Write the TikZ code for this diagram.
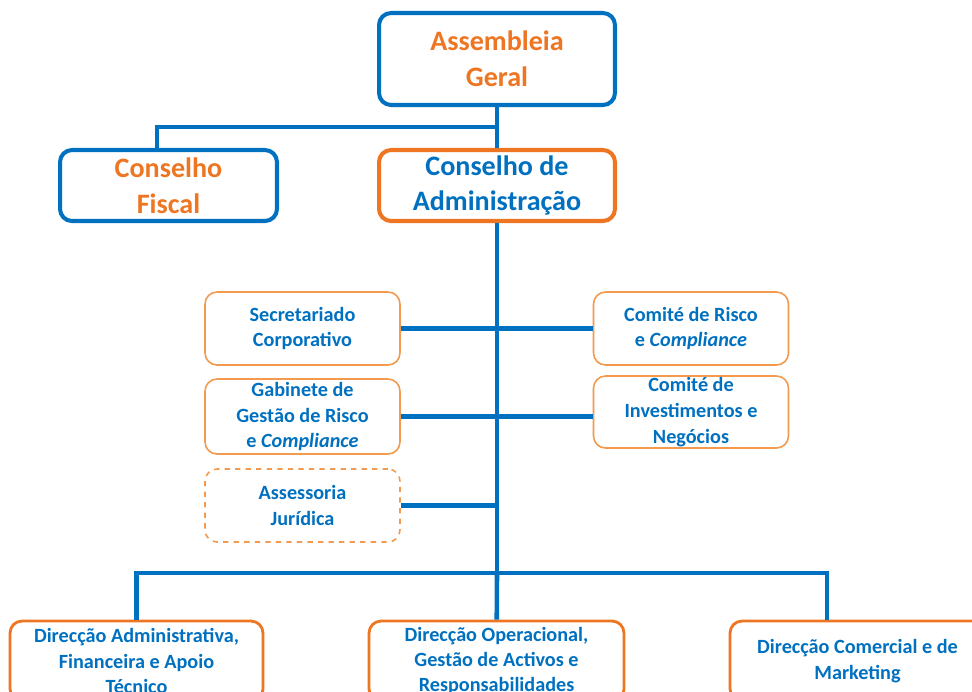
\documentclass[tikz,border=0pt]{standalone}
\usepackage{fontspec}
\setmainfont{Carlito}
\usepackage{tikz}

\definecolor{orgblue}{HTML}{0070C0}
\definecolor{orgorange}{HTML}{EE7623}
\definecolor{orglight}{HTML}{F39A4E}

\begin{document}
\begin{tikzpicture}[x=0.02cm, y=-0.02cm,
		top_style/.style={rectangle,rounded corners=0.24cm,line width=2.3pt,fill=white,align=center,
			font=\fontsize{16}{20.3}\selectfont\bfseries,inner sep=0pt},
		sub_style/.style={rectangle,rounded corners=0.24cm,draw=orglight,line width=0.9pt,fill=white,
			minimum width=3.9cm,minimum height=1.46cm,align=center,text=orgblue,
			font=\fontsize{11.5}{14.7}\selectfont\bfseries,inner sep=0pt},
		dir_style/.style={rectangle,rounded corners=0.24cm,draw=orgorange,line width=1.6pt,fill=white,
			minimum height=1.6cm,align=center,text=orgblue,
			font=\fontsize{11.5}{14.4}\selectfont\bfseries,inner sep=0pt},
		edge_style/.style={draw=orgblue,line width=2.6pt}]

		\clip (0,0) rectangle (972,691);
		\fill[white] (0,0) rectangle (972,691);

		% governing bodies
		\node[top_style,draw=orgblue,text=orgorange,minimum width=4.72cm,minimum height=1.84cm] (ag) at (497,59) {Assembleia\\Geral};
		\node[top_style,draw=orgblue,text=orgorange,minimum width=4.34cm,minimum height=1.42cm] (cf) at (168.5,185.5) {Conselho\\Fiscal};
		\node[top_style,draw=orgorange,text=orgblue,minimum width=4.72cm,minimum height=1.42cm] (ca) at (497,185.5) {Conselho de\\Administração};

		% support units
		\node[sub_style] (sec) at (302.5,328.5) {Secretariado\\Corporativo};
		\node[sub_style] (risk) at (691,328.5) {Comité de Risco\\e \textit{Compliance}};
		\node[sub_style,minimum height=1.5cm] (gab) at (302.5,416.5) {Gabinete de\\Gestão de Risco\\e \textit{Compliance}};
		\node[sub_style,minimum height=1.44cm] (inv) at (691,412) {Comité de\\Investimentos e\\Negócios};
		\node[sub_style,dashed] (ass) at (302.5,505.5) {Assessoria\\Jurídica};

		% directorates
		\node[dir_style,minimum width=5.06cm] (d1) at (136.5,661) {Direcção Administrativa,\\Financeira e Apoio\\Técnico};
		\node[dir_style,minimum width=5.1cm] (d2) at (496.5,661) {Direcção Operacional,\\Gestão de Activos e\\Responsabilidades};
		\node[dir_style,minimum width=5.1cm] (d3) at (857.5,661) {Direcção Comercial e de\\Marketing};

		% junctions
		\coordinate (j_top) at (497,127);
		\coordinate (j_bus) at (497,573);
		\coordinate (cf_in) at ([xshift=-0.23cm]cf.north);
		\coordinate (d3_in) at ([xshift=-0.61cm]d3.north);

		\draw[edge_style]  (ag) -- (ca);
		\draw[edge_style]  (j_top) -| (cf_in);
		\draw[edge_style]  (ca) -- (j_bus);
		\draw[edge_style]  (sec) -- (risk);
		\draw[edge_style]  (gab.east) -- (gab.east -| inv.west);
		\draw[edge_style]  (ass) -- (ass -| j_bus);
		\draw[edge_style]  (j_bus) -| (d1);
		\draw[edge_style]  (j_bus) -- (d2);
		\draw[edge_style]  (j_bus) -| (d3_in);
\end{tikzpicture}
\end{document}
